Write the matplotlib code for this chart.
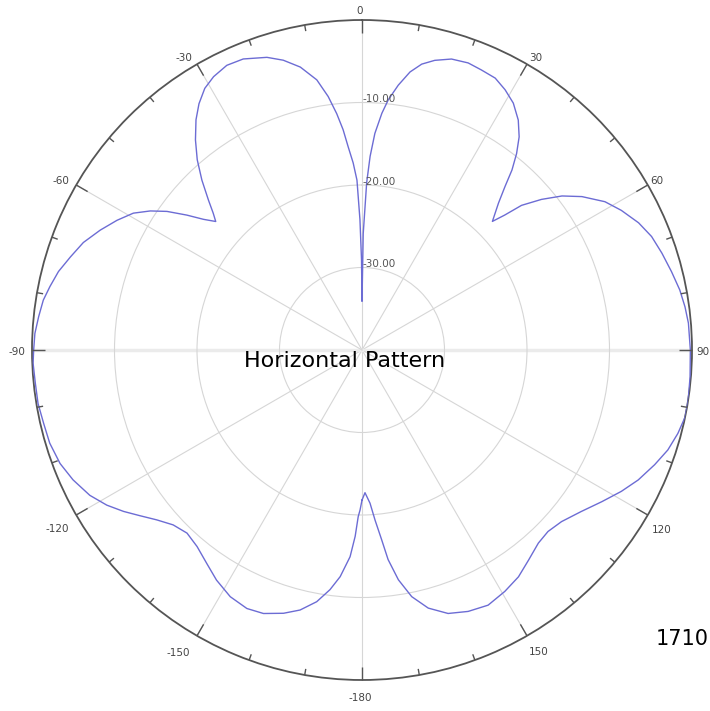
import numpy as np
import matplotlib.pyplot as plt

# horizontal antenna pattern, angle in degrees (clockwise from top), gain in dB
angles = [-180.0, -179.3, -178.7, -177.9, -176.7, -174.5, -172.4, -169.8, -166.6, -163.4,
          -159.5, -156.0, -151.9, -147.7, -144.0, -140.0, -136.3, -132.8, -129.6, -126.7,
          -124.1, -121.3, -118.1, -114.2, -110.6, -106.6, -103.0, -99.4, -95.8, -92.3,
          -90.0, -87.1, -84.1, -81.1, -78.5, -75.5, -72.3, -68.9, -65.4, -62.1,
          -59.1, -56.7, -54.6, -52.4, -50.5, -48.7, -47.4, -45.7, -43.3, -40.9,
          -38.4, -35.8, -33.5, -31.0, -28.5, -25.4, -22.2, -18.0, -15.2, -12.3,
          -9.5, -7.6, -6.1, -4.9, -3.9, -2.7, -1.7, -0.9, -0.3, 0.0,
          0.6, 1.6, 2.4, 3.4, 4.8, 6.0, 7.8, 9.8, 11.8, 14.1,
          17.1, 20.3, 23.1, 26.1, 28.8, 31.5, 34.2, 36.4, 38.2, 39.8,
          41.2, 42.9, 45.4, 46.6, 47.8, 50.0, 52.4, 55.1, 58.6, 61.7,
          65.3, 68.6, 72.1, 75.8, 79.3, 82.4, 85.3, 90.0, 94.7, 98.7,
          101.7, 104.8, 108.1, 111.4, 115.2, 118.6, 122.3, 126.4, 130.7, 134.3,
          137.6, 141.6, 145.4, 149.4, 153.7, 157.9, 161.9, 165.6, 168.6, 171.0,
          172.9, 174.1, 175.6, 177.0, 178.8, 180.0]
gain_db = [-21.8, -20.6, -19.8, -17.4, -14.9, -12.4, -10.7, -9.0, -7.6, -6.7,
           -5.9, -5.7, -6.1, -7.0, -8.0, -8.9, -9.3, -8.8, -7.7, -6.4,
           -5.1, -3.8, -2.6, -1.6, -0.9, -0.5, -0.4, -0.2, -0.2, -0.1,
           -0.2, -0.3, -0.6, -0.9, -1.4, -2.0, -2.9, -3.8, -5.1, -6.4,
           -7.7, -9.3, -11.0, -13.2, -15.1, -16.4, -15.5, -14.0, -11.7, -9.5,
           -7.5, -5.6, -4.2, -3.0, -2.3, -1.8, -1.9, -2.7, -3.6, -4.9,
           -6.8, -9.0, -11.2, -13.2, -15.3, -17.3, -19.4, -24.2, -29.1, -34.1,
           -25.9, -19.7, -16.5, -13.7, -11.2, -9.5, -7.6, -5.8, -4.6, -3.8,
           -3.1, -2.9, -3.1, -3.3, -4.0, -4.9, -6.3, -7.9, -9.7, -11.6,
           -13.7, -15.7, -17.8, -16.2, -13.9, -11.6, -9.4, -7.5, -5.5, -4.3,
           -3.1, -2.3, -1.8, -1.3, -0.8, -0.5, -0.3, -0.2, -0.1, 0.0,
           0.0, -0.4, -1.0, -1.9, -3.0, -4.2, -5.6, -7.0, -8.1, -8.5,
           -8.3, -7.5, -6.6, -6.0, -5.5, -5.8, -6.4, -7.7, -9.5, -11.8,
           -14.4, -16.9, -19.3, -21.4, -22.7, -21.8]

theta_ticks = [0, 30, 60, 90, 120, 150, 180, 210, 240, 270, 300, 330]
theta_labels = ['0', '30', '60', '90', '120', '150', '-180', '-150', '-120', '-90', '-60', '-30']
ring_values = [-30, -20, -10]
ring_labels = ['-30.00', '-20.00', '-10.00']

# label offsets from the outer circle, in pixels (right, down)
label_offsets = [(-2, -9), (9, -6), (9, -4), (11, 2), (14, 15), (12, 16),
                 (-2, 18), (-19, 17), (-19, 14), (-15, 2), (-15, -4), (-13, -6)]

fig = plt.figure(figsize=(7.10, 7.11), dpi=100)
ax = fig.add_axes([32/710, 31/711, 660/710, 660/711], projection='polar')
ax.set_theta_zero_location('N')
ax.set_theta_direction(-1)

ax.plot(np.deg2rad(angles), gain_db, color='#6c6cd4', lw=1.0, zorder=3)

ax.set_ylim(-40, 0)
ax.set_yticks(ring_values)
ax.set_yticklabels([])
ax.set_xticks(np.deg2rad(theta_ticks))
ax.set_xticklabels([])

ax.grid(True, color='#d6d6d6', lw=0.8)
for i, gl in enumerate(ax.xaxis.get_gridlines()):
    if i in (3, 9):
        gl.set_linewidth(2.5)
        gl.set_color('#ebebeb')

ax.tick_params(length=0)
ax.spines['polar'].set_color('#555555')
ax.spines['polar'].set_linewidth(1.3)

# inward ticks on the outer circle: every 10 deg, longer every 30 deg
for a in range(0, 360, 10):
    tick_len = 1.6 if a % 30 == 0 else 0.75
    ax.plot([np.deg2rad(a)] * 2, [-tick_len, 0], color='#555555', lw=1.0,
            solid_capstyle='butt', clip_on=False, zorder=4)

for t, lab, (dx, dy) in zip(theta_ticks, theta_labels, label_offsets):
    ax.annotate(lab, xy=(np.deg2rad(t), 0), xycoords='data',
                xytext=(dx*0.72, -dy*0.72), textcoords='offset points',
                ha='center', va='center', fontsize=7.5, color='#444444',
                annotation_clip=False)

for v, lab in zip(ring_values, ring_labels):
    ax.annotate(lab, xy=(0, v), xycoords='data', xytext=(0.5, 2.5),
                textcoords='offset points', ha='left', va='center',
                fontsize=7.5, color='#555555', zorder=4)

fig.text(345/710, 1 - 367/711, 'Horizontal Pattern', ha='center', va='baseline',
         fontsize=16, color='black')
fig.text(656/710, 1 - 645/711, '1710', ha='left', va='baseline',
         fontsize=15, color='black')

fig.savefig('out.png', dpi=100, facecolor='white')
